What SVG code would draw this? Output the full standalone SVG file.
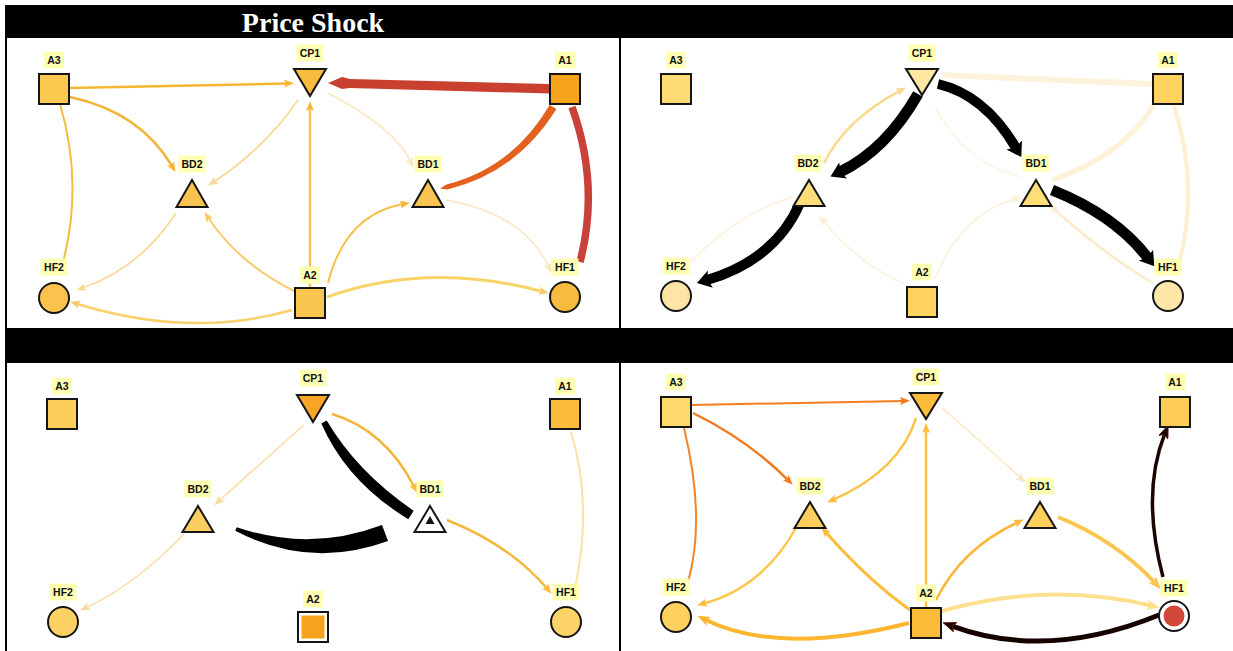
<svg xmlns="http://www.w3.org/2000/svg" width="1233" height="651" viewBox="0 0 1233 651">
  <defs>
    <style>
      .lbl{fill:#ffffb4}
      .lt{font-family:"Liberation Sans",Arial,sans-serif;font-weight:bold;font-size:10.5px;fill:#111;text-anchor:middle}
      .nd{stroke:#151515;stroke-width:2}
      .e{fill:none;stroke-linecap:butt}
      .title{font-family:"Liberation Serif","Times New Roman",serif;font-weight:bold;font-size:28px;fill:#fff;text-anchor:middle}
    </style>
    <!-- small arrowheads for thin edges -->
    <marker id="mA" viewBox="0 0 10 8" markerWidth="10" markerHeight="8" refX="3" refY="4" orient="auto" markerUnits="userSpaceOnUse"><path d="M0,0 L10,4 L0,8 L2,4 Z" fill="#f5b733"/></marker>
    <marker id="mB" viewBox="0 0 10 8" markerWidth="10" markerHeight="8" refX="3" refY="4" orient="auto" markerUnits="userSpaceOnUse"><path d="M0,0 L10,4 L0,8 L2,4 Z" fill="#f7cc66"/></marker>
    <marker id="mC3" viewBox="0 0 10 8" markerWidth="10" markerHeight="8" refX="3" refY="4" orient="auto" markerUnits="userSpaceOnUse"><path d="M0,0 L10,4 L0,8 L2,4 Z" fill="#f8da98"/></marker>
    <marker id="mC4" viewBox="0 0 10 8" markerWidth="10" markerHeight="8" refX="3" refY="4" orient="auto" markerUnits="userSpaceOnUse"><path d="M0,0 L10,4 L0,8 L2,4 Z" fill="#fae6c2"/></marker>
    <marker id="mC5" viewBox="0 0 10 8" markerWidth="10" markerHeight="8" refX="3" refY="4" orient="auto" markerUnits="userSpaceOnUse"><path d="M0,0 L10,4 L0,8 L2,4 Z" fill="#fdefd6"/></marker>
    <marker id="mP2" viewBox="0 0 10 8" markerWidth="10" markerHeight="8" refX="3" refY="4" orient="auto" markerUnits="userSpaceOnUse"><path d="M0,0 L10,4 L0,8 L2,4 Z" fill="#fcd890"/></marker>
    <marker id="mO" viewBox="0 0 10 8" markerWidth="10" markerHeight="8" refX="3" refY="4" orient="auto" markerUnits="userSpaceOnUse"><path d="M0,0 L10,4 L0,8 L2,4 Z" fill="#f47a1e"/></marker>
    <marker id="mY" viewBox="0 0 10 8" markerWidth="10" markerHeight="8" refX="3" refY="4" orient="auto" markerUnits="userSpaceOnUse"><path d="M0,0 L10,4 L0,8 L2,4 Z" fill="#fcbc3c"/></marker>
    <!-- larger arrowheads for heavy edges -->
    <marker id="mLY" viewBox="0 0 13 10" markerWidth="13" markerHeight="10" refX="4" refY="5" orient="auto" markerUnits="userSpaceOnUse"><path d="M0,0 L13,5 L0,10 L3,5 Z" fill="#fcc64e"/></marker>
    <marker id="mLT" viewBox="0 0 13 10" markerWidth="13" markerHeight="10" refX="4" refY="5" orient="auto" markerUnits="userSpaceOnUse"><path d="M0,0 L13,5 L0,10 L3,5 Z" fill="#fde08e"/></marker>
    <marker id="mLO" viewBox="0 0 13 10" markerWidth="13" markerHeight="10" refX="4" refY="5" orient="auto" markerUnits="userSpaceOnUse"><path d="M0,0 L13,5 L0,10 L3,5 Z" fill="#fcb630"/></marker>
    <marker id="mLK" viewBox="0 0 13 10" markerWidth="13" markerHeight="10" refX="4" refY="5" orient="auto" markerUnits="userSpaceOnUse"><path d="M0,0 L13,5 L0,10 L3,5 Z" fill="#150300" stroke="#6a140a" stroke-width="0.8"/></marker>
    <marker id="mK" viewBox="0 0 14 18" markerWidth="14" markerHeight="18" refX="3.5" refY="9" orient="auto" markerUnits="userSpaceOnUse"><path d="M0,0 L14,9 L0,18 L3,9 Z" fill="#000"/></marker>
  </defs>

  <rect width="1233" height="651" fill="#fff"/>

  <!-- table frame -->
  <g id="frame">
    <rect x="5" y="5" width="1228" height="33" fill="#000"/>
    <rect x="5" y="328" width="1228" height="35" fill="#000"/>
    <rect x="5" y="38" width="2" height="613" fill="#000"/>
    <rect x="619" y="38" width="2" height="613" fill="#000"/>
    <text class="title" x="313" y="32">Price Shock</text>
  </g>

  <!-- connectors -->
  <g id="connectors">
    <!-- panel 1 -->
    <path class="e" d="M69,88 L287,83.5" stroke="#f5b733" stroke-width="2.5" marker-end="url(#mA)"/>
    <path class="e" d="M70,97 Q140,112 172,166" stroke="#f2b43a" stroke-width="2.5" marker-end="url(#mA)"/>
    <path class="e" d="M60,104 Q84,185 62,266" stroke="#f3bd40" stroke-width="2"/>
    <path class="e" d="M298,100 Q265,148 214,181.7" stroke="#f8d995" stroke-width="1.8" marker-end="url(#mC3)"/>
    <path class="e" d="M328,93 Q395,128 410.5,161.5" stroke="#fae6c0" stroke-width="1.5" marker-end="url(#mC4)"/>
    <path d="M549,84 L350,79 L342,77 L328,83 L342,89 L350,88 L549,93.5 Z" fill="#c9402f"/>
    <path d="M556.4,109.1 Q516.9,172.6 447.6,189.4 L440,188.5 L446.4,184.6 Q513.1,167.4 549.6,104.9 Z" fill="#e2611f"/>
    <path class="e" d="M572,107 Q600,185 580,262" stroke="#c8423a" stroke-width="7.5"/>
    <path class="e" d="M310,287 L310,108" stroke="#f6c454" stroke-width="2.5" marker-end="url(#mA)"/>
    <path class="e" d="M296,292 Q240,265 208.4,218" stroke="#f7cc68" stroke-width="2" marker-end="url(#mB)"/>
    <path class="e" d="M328,283 Q345,215 403,204" stroke="#f5bf48" stroke-width="2" marker-end="url(#mA)"/>
    <path class="e" d="M176,213 Q140,268 82.7,288" stroke="#f8da98" stroke-width="1.8" marker-end="url(#mC3)"/>
    <path class="e" d="M292,310 Q190,339 76.7,303.8" stroke="#f8d06c" stroke-width="2.5" marker-end="url(#mB)"/>
    <path class="e" d="M327,297 Q428,261 542,291.5" stroke="#f8d468" stroke-width="3" marker-end="url(#mB)"/>
    <path class="e" d="M447,200 Q525,215 548.5,266.5" stroke="#fae6c4" stroke-width="1.5" marker-end="url(#mC4)"/>

    <!-- panel 2 -->
    <path class="e" d="M1153,84 L942,75" stroke="#fdf2dc" stroke-width="6"/>
    <path class="e" d="M1155,103 Q1125,155 1052,180" stroke="#fdf1d8" stroke-width="5"/>
    <path class="e" d="M1173,103 Q1200,183 1179,263" stroke="#fdefd2" stroke-width="4"/>
    <path class="e" d="M690,263 Q735,215 792,197" stroke="#fdf3e0" stroke-width="2"/>
    <path class="e" d="M903,283 Q860,265 823.8,221.6" stroke="#fdf1dc" stroke-width="1.5" marker-end="url(#mC5)"/>
    <path class="e" d="M934,280 Q960,215 1015.2,198.7" stroke="#fdf1d8" stroke-width="1.5" marker-end="url(#mC5)"/>
    <path class="e" d="M1153,283 Q1105,255 1054,209" stroke="#fdeccc" stroke-width="2.5" marker-end="url(#mC5)"/>
    <path class="e" d="M936,107 Q960,160 1021,177" stroke="#fdf3e2" stroke-width="1.5"/>
    <path class="e" d="M824,163 Q845,120 899.7,90.8" stroke="#fcd890" stroke-width="2.5" marker-end="url(#mP2)"/>
    <path class="e" d="M918,94 Q886,150 840,172" stroke="#000" stroke-width="11" marker-end="url(#mK)"/>
    <path class="e" d="M938,84 Q985,95 1016,148" stroke="#000" stroke-width="10" marker-end="url(#mK)"/>
    <path class="e" d="M1052,190 Q1115,215 1148,258" stroke="#000" stroke-width="11" marker-end="url(#mK)"/>
    <path class="e" d="M800,203 Q775,260 707,280" stroke="#000" stroke-width="10" marker-end="url(#mK)"/>

    <!-- panel 3 -->
    <path class="e" d="M304,425 Q262,462 219.5,500.5" stroke="#f8dea0" stroke-width="1.5" marker-end="url(#mC3)"/>
    <path class="e" d="M332,414 Q385,430 414.2,486.7" stroke="#f3b53c" stroke-width="2.5" marker-end="url(#mY)"/>
    <path d="M326.7,420.6 Q357.2,472.3 413.7,510.8 L408.3,519.2 Q346.8,481.7 321.3,423.4 Z" fill="#000"/>
    <path d="M236.8,527.2 Q310,552.25 382,525 L388,541 Q310,569.75 235.2,530.8 Z" fill="#000"/>
    <path class="e" d="M447,520 Q510,545 547,588.4" stroke="#f3b83e" stroke-width="2.5" marker-end="url(#mY)"/>
    <path class="e" d="M571,432 Q593,504.5 575,588" stroke="#f8e2a6" stroke-width="2"/>
    <path class="e" d="M184,534 Q135,585 86.4,607.5" stroke="#f8e0a4" stroke-width="1.5" marker-end="url(#mC3)"/>

    <!-- panel 4 -->
    <path class="e" d="M691,405 L903,401" stroke="#f47f20" stroke-width="2" marker-end="url(#mO)"/>
    <path class="e" d="M693,413 Q748,440 787.8,479.8" stroke="#f27a1e" stroke-width="2.5" marker-end="url(#mO)"/>
    <path class="e" d="M684,428 Q706,519 688,582" stroke="#f28424" stroke-width="2"/>
    <path class="e" d="M916,418 Q900,470 833.5,499.6" stroke="#fcc342" stroke-width="2.5" marker-end="url(#mY)"/>
    <path class="e" d="M926,607 L926,430" stroke="#fcbf3e" stroke-width="2.5" marker-end="url(#mY)"/>
    <path class="e" d="M942,408 Q985,445 1020.6,477.9" stroke="#fde6c0" stroke-width="1.5" marker-end="url(#mC4)"/>
    <path class="e" d="M796,528 Q762,588 703.8,603.5" stroke="#fcc64c" stroke-width="2.5" marker-end="url(#mY)"/>
    <path class="e" d="M910,610 Q868,580 826,532.5" stroke="#fcbc3a" stroke-width="3" marker-end="url(#mY)"/>
    <path class="e" d="M936,600 Q962,548 1017.5,522.5" stroke="#fcb73a" stroke-width="2.5" marker-end="url(#mY)"/>
    <path class="e" d="M1058,517 Q1115,540 1154.9,582.6" stroke="#fcc64e" stroke-width="4" marker-end="url(#mLY)"/>
    <path class="e" d="M1163,577 Q1141,493.5 1164.8,433.6" stroke="#1c0602" stroke-width="3.5" marker-end="url(#mLK)"/>
    <path class="e" d="M942,611 Q1048.5,581 1151,605.6" stroke="#fde08e" stroke-width="4" marker-end="url(#mLT)"/>
    <path class="e" d="M909,623 Q779.5,656 705.4,619.7" stroke="#fcb630" stroke-width="4" marker-end="url(#mLO)"/>
    <path class="e" d="M1159,615 Q1046.5,661 951.5,625.8" stroke="#160300" stroke-width="5" marker-end="url(#mLK)"/>
  </g>

  <!-- panel 1 nodes -->
  <g id="p1-A3"><rect class="nd" x="39" y="74" width="30" height="30" fill="#fbc94f"/><rect class="lbl" x="44" y="51.5" width="20" height="17"/><text class="lt" x="54" y="64">A3</text></g>
  <g id="p1-CP1"><polygon class="nd" points="294,69 326,69 310,96" fill="#f8bd3c"/><rect class="lbl" x="296.5" y="44.5" width="27" height="17"/><text class="lt" x="310" y="57">CP1</text></g>
  <g id="p1-A1"><rect class="nd" x="550" y="74" width="30" height="30" fill="#f7a41d"/><rect class="lbl" x="555" y="51.5" width="20" height="17"/><text class="lt" x="565" y="64">A1</text></g>
  <g id="p1-BD2"><polygon class="nd" points="192,180 207.5,207 176.5,207" fill="#f9c352"/><rect class="lbl" x="178.5" y="155.5" width="27" height="17"/><text class="lt" x="192" y="168">BD2</text></g>
  <g id="p1-BD1"><polygon class="nd" points="428,180 443.5,207 412.5,207" fill="#f9c352"/><rect class="lbl" x="414.5" y="155.5" width="27" height="17"/><text class="lt" x="428" y="168">BD1</text></g>
  <g id="p1-HF2"><circle class="nd" cx="54" cy="298" r="15" fill="#fbc34d"/><rect class="lbl" x="40.5" y="258.5" width="27" height="17"/><text class="lt" x="54" y="271">HF2</text></g>
  <g id="p1-A2"><rect class="nd" x="295" y="288" width="30" height="30" fill="#fbc64f"/><rect class="lbl" x="300" y="266.5" width="20" height="17"/><text class="lt" x="310" y="279">A2</text></g>
  <g id="p1-HF1"><circle class="nd" cx="565" cy="297" r="15" fill="#f9bb3e"/><rect class="lbl" x="551.5" y="258.5" width="27" height="17"/><text class="lt" x="565" y="271">HF1</text></g>

  <!-- panel 2 nodes -->
  <g id="p2-A3"><rect class="nd" x="661" y="74" width="30" height="30" fill="#ffdb74"/><rect class="lbl" x="666" y="51.5" width="20" height="17"/><text class="lt" x="676" y="64">A3</text></g>
  <g id="p2-CP1"><polygon class="nd" points="906,69 938,69 922,95" fill="#ffe6a2"/><rect class="lbl" x="908.5" y="44.5" width="27" height="17"/><text class="lt" x="922" y="57">CP1</text></g>
  <g id="p2-A1"><rect class="nd" x="1153" y="74" width="30" height="30" fill="#ffd25f"/><rect class="lbl" x="1158" y="51.5" width="20" height="17"/><text class="lt" x="1168" y="64">A1</text></g>
  <g id="p2-BD2"><polygon class="nd" points="809,180 824.5,206 793.5,206" fill="#ffdd78"/><rect class="lbl" x="794.5" y="154.5" width="27" height="17"/><text class="lt" x="808" y="167">BD2</text></g>
  <g id="p2-BD1"><polygon class="nd" points="1036,180 1051.5,206 1020.5,206" fill="#ffdd78"/><rect class="lbl" x="1022.5" y="154.5" width="27" height="17"/><text class="lt" x="1036" y="167">BD1</text></g>
  <g id="p2-HF2"><circle class="nd" cx="676" cy="296" r="15" fill="#ffe5a5"/><rect class="lbl" x="662.5" y="257.5" width="27" height="17"/><text class="lt" x="676" y="270">HF2</text></g>
  <g id="p2-A2"><rect class="nd" x="907" y="287" width="30" height="30" fill="#ffd35d"/><rect class="lbl" x="912" y="263.5" width="20" height="17"/><text class="lt" x="922" y="276">A2</text></g>
  <g id="p2-HF1"><circle class="nd" cx="1168" cy="296" r="15" fill="#ffe6a9"/><rect class="lbl" x="1154.5" y="258.5" width="27" height="17"/><text class="lt" x="1168" y="271">HF1</text></g>

  <!-- panel 3 nodes -->
  <g id="p3-A3"><rect class="nd" x="47" y="399" width="30" height="30" fill="#fcce5a"/><rect class="lbl" x="52" y="377.5" width="20" height="17"/><text class="lt" x="62" y="390">A3</text></g>
  <g id="p3-CP1"><polygon class="nd" points="297,395 329,395 313,422" fill="#f6a526"/><rect class="lbl" x="299.5" y="369.5" width="27" height="17"/><text class="lt" x="313" y="382">CP1</text></g>
  <g id="p3-A1"><rect class="nd" x="550" y="399" width="30" height="30" fill="#fbbc3d"/><rect class="lbl" x="555" y="377.5" width="20" height="17"/><text class="lt" x="565" y="390">A1</text></g>
  <g id="p3-BD2"><polygon class="nd" points="198,506 213.5,532 182.5,532" fill="#fbce60"/><rect class="lbl" x="184.5" y="480.5" width="27" height="17"/><text class="lt" x="198" y="493">BD2</text></g>
  <g id="p3-BD1"><polygon class="nd" points="430,506 445.5,532 414.5,532" fill="#fff"/><polygon points="430,516 434.5,524 425.5,524" fill="#111"/><rect class="lbl" x="416.5" y="480.5" width="27" height="17"/><text class="lt" x="430" y="493">BD1</text></g>
  <g id="p3-HF2"><circle class="nd" cx="63" cy="622" r="15" fill="#fcd062"/><rect class="lbl" x="49.5" y="583.5" width="27" height="17"/><text class="lt" x="63" y="596">HF2</text></g>
  <g id="p3-A2"><rect class="nd" x="298" y="612" width="30" height="30" fill="#fff"/><rect x="301.5" y="615.5" width="23" height="23" fill="#f6a21c"/><rect class="lbl" x="303" y="590.5" width="20" height="17"/><text class="lt" x="313" y="603">A2</text></g>
  <g id="p3-HF1"><circle class="nd" cx="566" cy="622" r="15" fill="#fcd366"/><rect class="lbl" x="552.5" y="583.5" width="27" height="17"/><text class="lt" x="566" y="596">HF1</text></g>

  <!-- panel 4 nodes -->
  <g id="p4-A3"><rect class="nd" x="661" y="397" width="30" height="30" fill="#ffd86c"/><rect class="lbl" x="666" y="373.5" width="20" height="17"/><text class="lt" x="676" y="386">A3</text></g>
  <g id="p4-CP1"><polygon class="nd" points="910,393 942,393 926,419" fill="#fcbd3c"/><rect class="lbl" x="912.5" y="368.5" width="27" height="17"/><text class="lt" x="926" y="381">CP1</text></g>
  <g id="p4-A1"><rect class="nd" x="1160" y="397" width="30" height="30" fill="#ffce57"/><rect class="lbl" x="1165" y="373.5" width="20" height="17"/><text class="lt" x="1175" y="386">A1</text></g>
  <g id="p4-BD2"><polygon class="nd" points="810,502 825.5,528 794.5,528" fill="#fdce5c"/><rect class="lbl" x="796.5" y="477.5" width="27" height="17"/><text class="lt" x="810" y="490">BD2</text></g>
  <g id="p4-BD1"><polygon class="nd" points="1040,502 1055.5,528 1024.5,528" fill="#fdce5c"/><rect class="lbl" x="1026.5" y="477.5" width="27" height="17"/><text class="lt" x="1040" y="490">BD1</text></g>
  <g id="p4-HF2"><circle class="nd" cx="676" cy="617" r="15" fill="#fed05e"/><rect class="lbl" x="662.5" y="578.5" width="27" height="17"/><text class="lt" x="676" y="591">HF2</text></g>
  <g id="p4-A2"><rect class="nd" x="911" y="608" width="30" height="30" fill="#fdbd39"/><rect class="lbl" x="916" y="584.5" width="20" height="17"/><text class="lt" x="926" y="597">A2</text></g>
  <g id="p4-HF1"><circle class="nd" cx="1174" cy="616" r="15" fill="#fff"/><circle cx="1174" cy="616" r="10.5" fill="#d1473a"/><rect class="lbl" x="1160.5" y="579.5" width="27" height="17"/><text class="lt" x="1174" y="592">HF1</text></g>
</svg>
